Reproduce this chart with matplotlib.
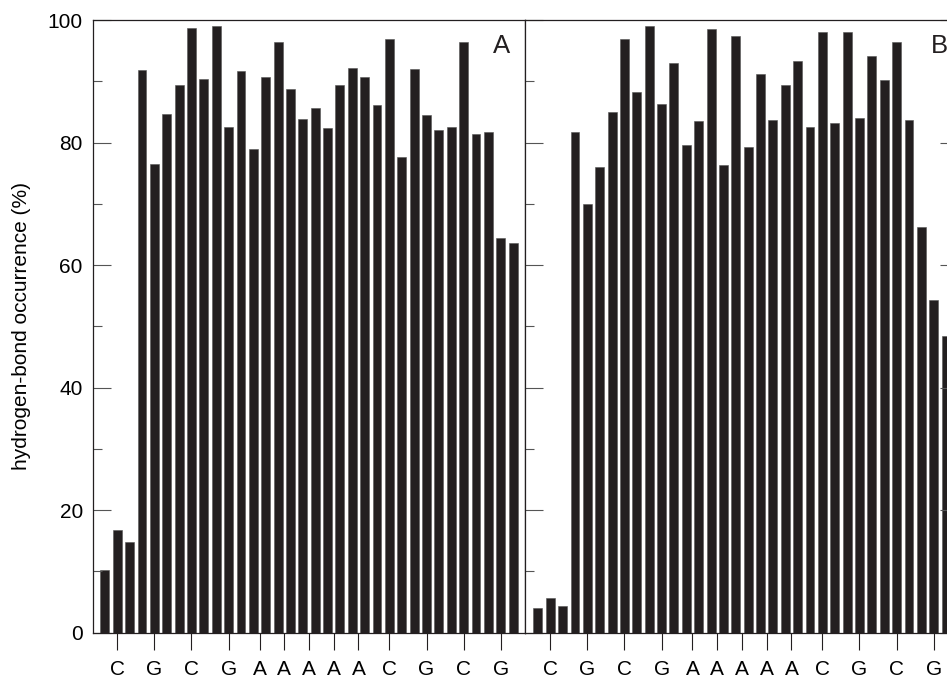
import numpy as np
from matplotlib import pyplot as plt
from matplotlib.ticker import MultipleLocator

# base pairs along the duplex and number of H-bonds per pair
bases = ['C', 'G', 'C', 'G', 'A', 'A', 'A', 'A', 'A', 'C', 'G', 'C', 'G']
nbonds = [3, 3, 3, 3, 2, 2, 2, 2, 2, 3, 3, 3, 3]

occ_A = [10.2, 16.8, 14.8, 91.8, 76.5, 84.7, 89.4, 98.7, 90.4, 99.0, 82.5, 91.7,
         79.0, 90.8, 96.5, 88.7, 83.9, 85.6, 82.4, 89.4, 92.2, 90.7, 86.2, 97.0,
         77.6, 92.1, 84.6, 82.0, 82.5, 96.4, 81.5, 81.7, 64.4, 63.6]
occ_B = [4.1, 5.6, 4.3, 81.7, 70.0, 76.0, 85.0, 97.0, 88.3, 99.0, 86.3, 93.0,
         79.7, 83.6, 98.5, 76.4, 97.4, 79.3, 91.2, 83.7, 89.4, 93.3, 82.6, 98.0,
         83.2, 98.1, 84.0, 94.1, 90.3, 96.5, 83.7, 66.3, 54.4, 48.5]

ink = '#231f20'
plt.rcParams['font.family'] = ['Liberation Sans', 'DejaVu Sans']
plt.rcParams['font.size'] = 15

starts = np.concatenate([[0], np.cumsum(nbonds)[:-1]])
tick_pos = starts + (np.array(nbonds) - 1) / 2.0


def draw_panel(ax, vals, letter, left_labels, right_ticks):
    x = np.arange(len(vals))
    ax.bar(x, vals, width=0.72, color=ink, edgecolor='#555555', linewidth=0.4)
    ax.set_xlim(-1, 34)
    ax.set_ylim(0, 100)
    ax.yaxis.set_major_locator(MultipleLocator(20))
    ax.yaxis.set_minor_locator(MultipleLocator(10))
    ax.set_xticks(tick_pos)
    ax.set_xticklabels(bases)
    ax.tick_params(axis='x', direction='out', length=12.5, width=0.8,
                   color=ink, pad=7, bottom=True, top=False)
    ax.tick_params(axis='y', which='major', direction='in', length=13,
                   width=0.8, color='#555555', left=True, right=right_ticks,
                   labelleft=left_labels, pad=7)
    ax.tick_params(axis='y', which='minor', direction='in', length=6.5,
                   width=0.8, color='#555555', left=True, right=right_ticks)
    for s in ax.spines.values():
        s.set_linewidth(0.9)
        s.set_color(ink)
    ax.text(0.956 if letter == 'B' else 0.944, 0.958, letter,
            transform=ax.transAxes, fontsize=18.5, ha='center', va='center',
            color=ink)


fig = plt.figure(figsize=(9.47, 6.78), dpi=100)
axA = fig.add_axes([0.0977, 0.0668, 0.4572, 0.9034])
axB = fig.add_axes([0.5549, 0.0668, 0.4572, 0.9034])

draw_panel(axA, occ_A, 'A', True, False)
draw_panel(axB, occ_B, 'B', False, True)

axA.set_ylabel('hydrogen-bond occurrence (%)', labelpad=12)

fig.savefig('out.png', dpi=100)
